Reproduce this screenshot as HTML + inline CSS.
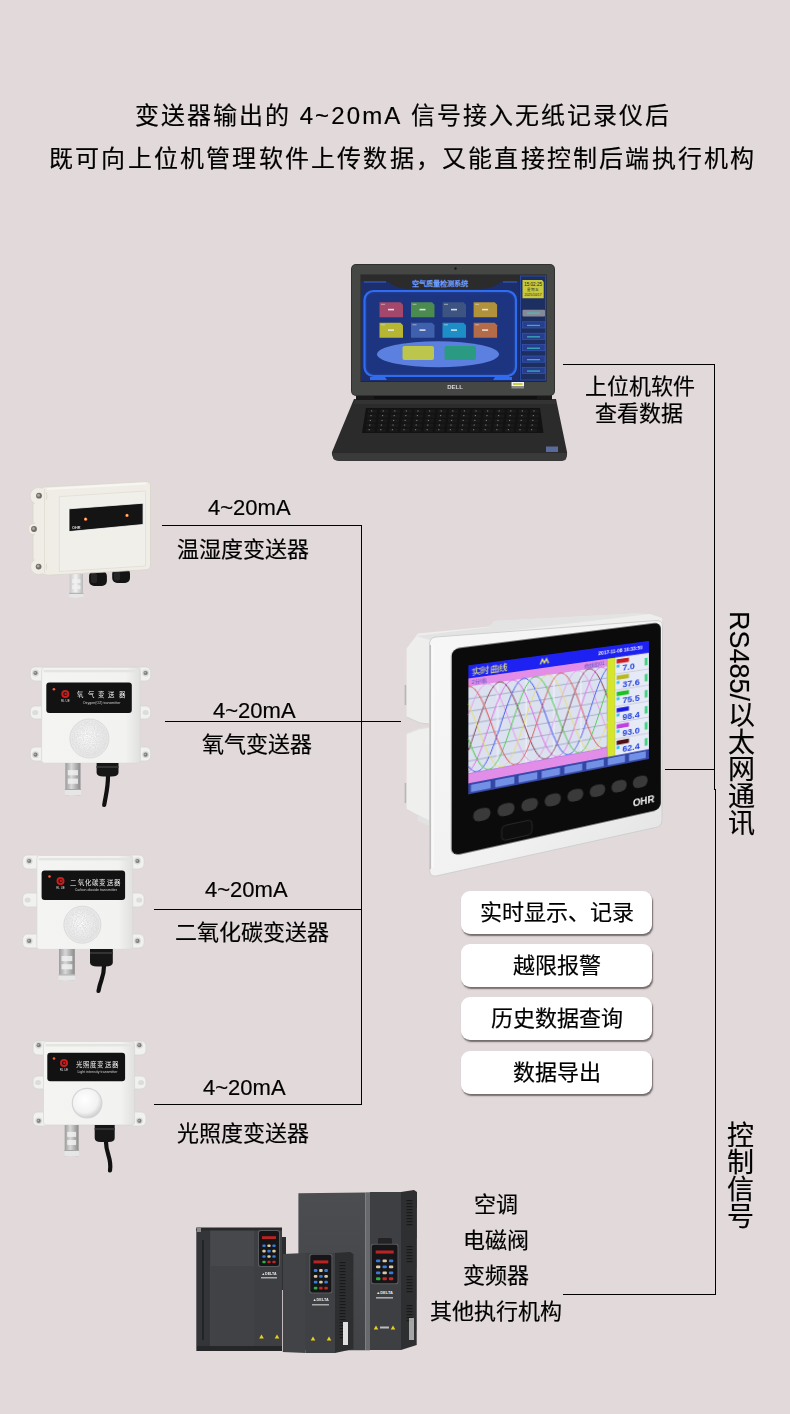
<!DOCTYPE html>
<html lang="zh-CN">
<head>
<meta charset="utf-8">
<style>
*{margin:0;padding:0;box-sizing:border-box}
html,body{width:790px;height:1414px;overflow:hidden}
body{background:#e2d9da;font-family:"Liberation Sans",sans-serif;color:#000;position:relative}
.t{position:absolute;white-space:nowrap;line-height:1;will-change:transform;-webkit-text-stroke:0.18px #000}
.ln{position:absolute;background:#000}
.box{will-change:transform;position:absolute;left:461px;width:191px;height:43px;background:#fff;border-radius:9px;box-shadow:1px 2px 1.5px rgba(70,60,60,.7);font-size:22px;line-height:43px;text-align:center;color:#000;-webkit-text-stroke:0.18px #000}
</style>
</head>
<body>
<div class="t" id="h1" style="left:135px;top:104px;font-size:24px;letter-spacing:2px">变送器输出的 <span style="letter-spacing:2.1px">4~20mA</span> 信号接入无纸记录仪后</div>
<div class="t" id="h2" style="left:49px;top:147px;font-size:24px;letter-spacing:2.2px">既可向上位机管理软件上传数据，又能直接控制后端执行机构</div>

<!-- lines -->
<div class="ln" style="left:563px;top:364px;width:152px;height:1px"></div>
<div class="ln" style="left:714px;top:364px;width:1px;height:426px"></div>
<div class="ln" style="left:715px;top:789px;width:1px;height:506px"></div>
<div class="ln" style="left:665px;top:769px;width:50px;height:1px"></div>
<div class="ln" style="left:563px;top:1294px;width:153px;height:1px"></div>

<div class="ln" style="left:162px;top:525px;width:200px;height:1px"></div>
<div class="ln" style="left:361px;top:525px;width:1px;height:580px"></div>
<div class="ln" style="left:165px;top:721px;width:236px;height:1px"></div>
<div class="ln" style="left:154px;top:909px;width:208px;height:1px"></div>
<div class="ln" style="left:154px;top:1104px;width:208px;height:1px"></div>

<div class="t" style="left:585px;top:373px;font-size:22px;text-align:center;line-height:27px;width:108px">上位机软件<br>查看数据</div>

<div class="t" style="left:208px;top:497px;font-size:22px">4~20mA</div>
<div class="t" style="left:177px;top:539px;font-size:22px">温湿度变送器</div>
<div class="t" style="left:213px;top:700px;font-size:22px">4~20mA</div>
<div class="t" style="left:202px;top:734px;font-size:22px">氧气变送器</div>
<div class="t" style="left:205px;top:879px;font-size:22px">4~20mA</div>
<div class="t" style="left:175px;top:922px;font-size:22px">二氧化碳变送器</div>
<div class="t" style="left:203px;top:1077px;font-size:22px">4~20mA</div>
<div class="t" style="left:177px;top:1123px;font-size:22px">光照度变送器</div>

<div class="t" style="left:725px;top:611px;font-size:27px;writing-mode:vertical-rl">RS485/以太网通讯</div>
<div class="t" style="left:724px;top:1121px;font-size:27px;writing-mode:vertical-rl">控制信号</div>

<div class="box" style="top:891px">实时显示、记录</div>
<div class="box" style="top:944px">越限报警</div>
<div class="box" style="top:997px">历史数据查询</div>
<div class="box" style="top:1051px">数据导出</div>

<div class="t" style="left:430px;top:1187px;width:132px;text-align:center;font-size:22px;line-height:35.5px">空调<br>电磁阀<br>变频器<br>其他执行机构</div>
<svg style="position:absolute;left:0;top:0" width="790" height="1414" viewBox="0 0 790 1414"><path d="M354,399 L556,399 L567,452 Q568,460 560,461 L340,461 Q331,460 332,452 Z" fill="#2b2b2b"/><path d="M333,453 L567,453 L566,459 Q565,461 559,461 L341,461 Q334,461 333,458 Z" fill="#3a3a3a"/><path d="M355,399 L555,399 L556,404 L354,404 Z" fill="#333"/><path d="M366,408 L540,408 L543.5,433 L362,433 Z" fill="#121212"/><rect x="368.0" y="409.5" width="9" height="3.6" fill="#191919"/><rect x="379.6" y="409.5" width="9" height="3.6" fill="#191919"/><rect x="391.2" y="409.5" width="9" height="3.6" fill="#191919"/><rect x="402.8" y="409.5" width="9" height="3.6" fill="#191919"/><rect x="414.4" y="409.5" width="9" height="3.6" fill="#191919"/><rect x="426.0" y="409.5" width="9" height="3.6" fill="#191919"/><rect x="437.6" y="409.5" width="9" height="3.6" fill="#191919"/><rect x="449.2" y="409.5" width="9" height="3.6" fill="#191919"/><rect x="460.8" y="409.5" width="9" height="3.6" fill="#191919"/><rect x="472.4" y="409.5" width="9" height="3.6" fill="#191919"/><rect x="484.0" y="409.5" width="9" height="3.6" fill="#191919"/><rect x="495.6" y="409.5" width="9" height="3.6" fill="#191919"/><rect x="507.2" y="409.5" width="9" height="3.6" fill="#191919"/><rect x="518.8" y="409.5" width="9" height="3.6" fill="#191919"/><rect x="530.4" y="409.5" width="9" height="3.6" fill="#191919"/><rect x="367.4" y="414.2" width="9" height="3.6" fill="#191919"/><rect x="379.0" y="414.2" width="9" height="3.6" fill="#191919"/><rect x="390.6" y="414.2" width="9" height="3.6" fill="#191919"/><rect x="402.2" y="414.2" width="9" height="3.6" fill="#191919"/><rect x="413.8" y="414.2" width="9" height="3.6" fill="#191919"/><rect x="425.4" y="414.2" width="9" height="3.6" fill="#191919"/><rect x="437.0" y="414.2" width="9" height="3.6" fill="#191919"/><rect x="448.6" y="414.2" width="9" height="3.6" fill="#191919"/><rect x="460.2" y="414.2" width="9" height="3.6" fill="#191919"/><rect x="471.8" y="414.2" width="9" height="3.6" fill="#191919"/><rect x="483.4" y="414.2" width="9" height="3.6" fill="#191919"/><rect x="495.0" y="414.2" width="9" height="3.6" fill="#191919"/><rect x="506.6" y="414.2" width="9" height="3.6" fill="#191919"/><rect x="518.2" y="414.2" width="9" height="3.6" fill="#191919"/><rect x="529.8" y="414.2" width="9" height="3.6" fill="#191919"/><rect x="366.8" y="418.9" width="9" height="3.6" fill="#191919"/><rect x="378.4" y="418.9" width="9" height="3.6" fill="#191919"/><rect x="390.0" y="418.9" width="9" height="3.6" fill="#191919"/><rect x="401.6" y="418.9" width="9" height="3.6" fill="#191919"/><rect x="413.2" y="418.9" width="9" height="3.6" fill="#191919"/><rect x="424.8" y="418.9" width="9" height="3.6" fill="#191919"/><rect x="436.4" y="418.9" width="9" height="3.6" fill="#191919"/><rect x="448.0" y="418.9" width="9" height="3.6" fill="#191919"/><rect x="459.6" y="418.9" width="9" height="3.6" fill="#191919"/><rect x="471.2" y="418.9" width="9" height="3.6" fill="#191919"/><rect x="482.8" y="418.9" width="9" height="3.6" fill="#191919"/><rect x="494.4" y="418.9" width="9" height="3.6" fill="#191919"/><rect x="506.0" y="418.9" width="9" height="3.6" fill="#191919"/><rect x="517.6" y="418.9" width="9" height="3.6" fill="#191919"/><rect x="529.2" y="418.9" width="9" height="3.6" fill="#191919"/><rect x="366.2" y="423.6" width="9" height="3.6" fill="#191919"/><rect x="377.8" y="423.6" width="9" height="3.6" fill="#191919"/><rect x="389.4" y="423.6" width="9" height="3.6" fill="#191919"/><rect x="401.0" y="423.6" width="9" height="3.6" fill="#191919"/><rect x="412.6" y="423.6" width="9" height="3.6" fill="#191919"/><rect x="424.2" y="423.6" width="9" height="3.6" fill="#191919"/><rect x="435.8" y="423.6" width="9" height="3.6" fill="#191919"/><rect x="447.4" y="423.6" width="9" height="3.6" fill="#191919"/><rect x="459.0" y="423.6" width="9" height="3.6" fill="#191919"/><rect x="470.6" y="423.6" width="9" height="3.6" fill="#191919"/><rect x="482.2" y="423.6" width="9" height="3.6" fill="#191919"/><rect x="493.8" y="423.6" width="9" height="3.6" fill="#191919"/><rect x="505.4" y="423.6" width="9" height="3.6" fill="#191919"/><rect x="517.0" y="423.6" width="9" height="3.6" fill="#191919"/><rect x="528.6" y="423.6" width="9" height="3.6" fill="#191919"/><rect x="365.6" y="428.3" width="9" height="3.6" fill="#191919"/><rect x="377.2" y="428.3" width="9" height="3.6" fill="#191919"/><rect x="388.8" y="428.3" width="9" height="3.6" fill="#191919"/><rect x="400.4" y="428.3" width="9" height="3.6" fill="#191919"/><rect x="412.0" y="428.3" width="9" height="3.6" fill="#191919"/><rect x="423.6" y="428.3" width="9" height="3.6" fill="#191919"/><rect x="435.2" y="428.3" width="9" height="3.6" fill="#191919"/><rect x="446.8" y="428.3" width="9" height="3.6" fill="#191919"/><rect x="458.4" y="428.3" width="9" height="3.6" fill="#191919"/><rect x="470.0" y="428.3" width="9" height="3.6" fill="#191919"/><rect x="481.6" y="428.3" width="9" height="3.6" fill="#191919"/><rect x="493.2" y="428.3" width="9" height="3.6" fill="#191919"/><rect x="504.8" y="428.3" width="9" height="3.6" fill="#191919"/><rect x="516.4" y="428.3" width="9" height="3.6" fill="#191919"/><rect x="528.0" y="428.3" width="9" height="3.6" fill="#191919"/><rect x="371.0" y="410.5" width="1.2" height=".9" fill="#8a8a8a"/><rect x="382.6" y="410.5" width="1.2" height=".9" fill="#8a8a8a"/><rect x="394.2" y="410.5" width="1.2" height=".9" fill="#8a8a8a"/><rect x="405.8" y="410.5" width="1.2" height=".9" fill="#8a8a8a"/><rect x="417.4" y="410.5" width="1.2" height=".9" fill="#8a8a8a"/><rect x="429.0" y="410.5" width="1.2" height=".9" fill="#8a8a8a"/><rect x="440.6" y="410.5" width="1.2" height=".9" fill="#8a8a8a"/><rect x="452.2" y="410.5" width="1.2" height=".9" fill="#8a8a8a"/><rect x="463.8" y="410.5" width="1.2" height=".9" fill="#8a8a8a"/><rect x="475.4" y="410.5" width="1.2" height=".9" fill="#8a8a8a"/><rect x="487.0" y="410.5" width="1.2" height=".9" fill="#8a8a8a"/><rect x="498.6" y="410.5" width="1.2" height=".9" fill="#8a8a8a"/><rect x="510.2" y="410.5" width="1.2" height=".9" fill="#8a8a8a"/><rect x="521.8" y="410.5" width="1.2" height=".9" fill="#8a8a8a"/><rect x="533.4" y="410.5" width="1.2" height=".9" fill="#8a8a8a"/><rect x="370.4" y="415.2" width="1.2" height=".9" fill="#8a8a8a"/><rect x="382.0" y="415.2" width="1.2" height=".9" fill="#8a8a8a"/><rect x="393.6" y="415.2" width="1.2" height=".9" fill="#8a8a8a"/><rect x="405.2" y="415.2" width="1.2" height=".9" fill="#8a8a8a"/><rect x="416.8" y="415.2" width="1.2" height=".9" fill="#8a8a8a"/><rect x="428.4" y="415.2" width="1.2" height=".9" fill="#8a8a8a"/><rect x="440.0" y="415.2" width="1.2" height=".9" fill="#8a8a8a"/><rect x="451.6" y="415.2" width="1.2" height=".9" fill="#8a8a8a"/><rect x="463.2" y="415.2" width="1.2" height=".9" fill="#8a8a8a"/><rect x="474.8" y="415.2" width="1.2" height=".9" fill="#8a8a8a"/><rect x="486.4" y="415.2" width="1.2" height=".9" fill="#8a8a8a"/><rect x="498.0" y="415.2" width="1.2" height=".9" fill="#8a8a8a"/><rect x="509.6" y="415.2" width="1.2" height=".9" fill="#8a8a8a"/><rect x="521.2" y="415.2" width="1.2" height=".9" fill="#8a8a8a"/><rect x="532.8" y="415.2" width="1.2" height=".9" fill="#8a8a8a"/><rect x="369.8" y="419.9" width="1.2" height=".9" fill="#8a8a8a"/><rect x="381.4" y="419.9" width="1.2" height=".9" fill="#8a8a8a"/><rect x="393.0" y="419.9" width="1.2" height=".9" fill="#8a8a8a"/><rect x="404.6" y="419.9" width="1.2" height=".9" fill="#8a8a8a"/><rect x="416.2" y="419.9" width="1.2" height=".9" fill="#8a8a8a"/><rect x="427.8" y="419.9" width="1.2" height=".9" fill="#8a8a8a"/><rect x="439.4" y="419.9" width="1.2" height=".9" fill="#8a8a8a"/><rect x="451.0" y="419.9" width="1.2" height=".9" fill="#8a8a8a"/><rect x="462.6" y="419.9" width="1.2" height=".9" fill="#8a8a8a"/><rect x="474.2" y="419.9" width="1.2" height=".9" fill="#8a8a8a"/><rect x="485.8" y="419.9" width="1.2" height=".9" fill="#8a8a8a"/><rect x="497.4" y="419.9" width="1.2" height=".9" fill="#8a8a8a"/><rect x="509.0" y="419.9" width="1.2" height=".9" fill="#8a8a8a"/><rect x="520.6" y="419.9" width="1.2" height=".9" fill="#8a8a8a"/><rect x="532.2" y="419.9" width="1.2" height=".9" fill="#8a8a8a"/><rect x="369.2" y="424.6" width="1.2" height=".9" fill="#8a8a8a"/><rect x="380.8" y="424.6" width="1.2" height=".9" fill="#8a8a8a"/><rect x="392.4" y="424.6" width="1.2" height=".9" fill="#8a8a8a"/><rect x="404.0" y="424.6" width="1.2" height=".9" fill="#8a8a8a"/><rect x="415.6" y="424.6" width="1.2" height=".9" fill="#8a8a8a"/><rect x="427.2" y="424.6" width="1.2" height=".9" fill="#8a8a8a"/><rect x="438.8" y="424.6" width="1.2" height=".9" fill="#8a8a8a"/><rect x="450.4" y="424.6" width="1.2" height=".9" fill="#8a8a8a"/><rect x="462.0" y="424.6" width="1.2" height=".9" fill="#8a8a8a"/><rect x="473.6" y="424.6" width="1.2" height=".9" fill="#8a8a8a"/><rect x="485.2" y="424.6" width="1.2" height=".9" fill="#8a8a8a"/><rect x="496.8" y="424.6" width="1.2" height=".9" fill="#8a8a8a"/><rect x="508.4" y="424.6" width="1.2" height=".9" fill="#8a8a8a"/><rect x="520.0" y="424.6" width="1.2" height=".9" fill="#8a8a8a"/><rect x="531.6" y="424.6" width="1.2" height=".9" fill="#8a8a8a"/><rect x="368.6" y="429.3" width="1.2" height=".9" fill="#8a8a8a"/><rect x="380.2" y="429.3" width="1.2" height=".9" fill="#8a8a8a"/><rect x="391.8" y="429.3" width="1.2" height=".9" fill="#8a8a8a"/><rect x="403.4" y="429.3" width="1.2" height=".9" fill="#8a8a8a"/><rect x="415.0" y="429.3" width="1.2" height=".9" fill="#8a8a8a"/><rect x="426.6" y="429.3" width="1.2" height=".9" fill="#8a8a8a"/><rect x="438.2" y="429.3" width="1.2" height=".9" fill="#8a8a8a"/><rect x="449.8" y="429.3" width="1.2" height=".9" fill="#8a8a8a"/><rect x="461.4" y="429.3" width="1.2" height=".9" fill="#8a8a8a"/><rect x="473.0" y="429.3" width="1.2" height=".9" fill="#8a8a8a"/><rect x="484.6" y="429.3" width="1.2" height=".9" fill="#8a8a8a"/><rect x="496.2" y="429.3" width="1.2" height=".9" fill="#8a8a8a"/><rect x="507.8" y="429.3" width="1.2" height=".9" fill="#8a8a8a"/><rect x="519.4" y="429.3" width="1.2" height=".9" fill="#8a8a8a"/><rect x="531.0" y="429.3" width="1.2" height=".9" fill="#8a8a8a"/><rect x="546" y="446.5" width="12" height="5.5" fill="#5a6a9a"/><rect x="356" y="394" width="196" height="6" fill="#1a1a1a"/><rect x="374" y="395" width="163" height="4" fill="#101010"/><rect x="351" y="264" width="204" height="132" rx="5" fill="#2f302f"/><rect x="352" y="265" width="202" height="130" rx="4" fill="#454745"/><rect x="360.5" y="274.5" width="186" height="107.5" fill="#262626"/><rect x="361" y="275" width="158.5" height="106" fill="#1c2f6c"/><rect x="361" y="275" width="158.5" height="6" fill="#2b2b2b"/><path d="M386,280 Q395,289 410,289 L478,289 Q495,289 503,280 Z" fill="#2b2b2b"/><path d="M364,282 L386,282 M503,282 L517,282" stroke="#3a63c8" stroke-width="1"/><text x="440" y="286" font-size="7.2" fill="#6f9cff" text-anchor="middle" font-weight="700" style="font-family:'Liberation Sans',sans-serif">空气质量检测系统</text><rect x="364.5" y="291" width="151.5" height="85" rx="9" fill="#1f3b8f" stroke="#2f6cf0" stroke-width="2.2"/><rect x="367" y="293.5" width="146.5" height="80" rx="7" fill="#1d3580"/><path d="M370,377 L385,377 L387,380 L370,380 Z M495,377 L512,377 L512,380 L493,380 Z" fill="#2f6cf0"/><path d="M379.5,302.3 h21 l2.5,2.5 v12.5 h-23.5 z" fill="#a3476b"/><rect x="388.0" y="308.8" width="6" height="1.6" fill="#f0f0f0" opacity=".85"/><rect x="381.0" y="303.8" width="4" height="1" fill="#e0e0e0" opacity=".6"/><path d="M411.0,302.3 h21 l2.5,2.5 v12.5 h-23.5 z" fill="#4b8b50"/><rect x="419.5" y="308.8" width="6" height="1.6" fill="#f0f0f0" opacity=".85"/><rect x="412.5" y="303.8" width="4" height="1" fill="#e0e0e0" opacity=".6"/><path d="M442.5,302.3 h21 l2.5,2.5 v12.5 h-23.5 z" fill="#3d5382"/><rect x="451.0" y="308.8" width="6" height="1.6" fill="#f0f0f0" opacity=".85"/><rect x="444.0" y="303.8" width="4" height="1" fill="#e0e0e0" opacity=".6"/><path d="M473.6,302.3 h21 l2.5,2.5 v12.5 h-23.5 z" fill="#b1913a"/><rect x="482.1" y="308.8" width="6" height="1.6" fill="#f0f0f0" opacity=".85"/><rect x="475.1" y="303.8" width="4" height="1" fill="#e0e0e0" opacity=".6"/><path d="M379.5,322.8 h21 l2.5,2.5 v12.5 h-23.5 z" fill="#b6b534"/><rect x="388.0" y="329.3" width="6" height="1.6" fill="#f0f0f0" opacity=".85"/><rect x="381.0" y="324.3" width="4" height="1" fill="#e0e0e0" opacity=".6"/><path d="M411.0,322.8 h21 l2.5,2.5 v12.5 h-23.5 z" fill="#3f60ad"/><rect x="419.5" y="329.3" width="6" height="1.6" fill="#f0f0f0" opacity=".85"/><rect x="412.5" y="324.3" width="4" height="1" fill="#e0e0e0" opacity=".6"/><path d="M442.5,322.8 h21 l2.5,2.5 v12.5 h-23.5 z" fill="#1e8ec7"/><rect x="451.0" y="329.3" width="6" height="1.6" fill="#f0f0f0" opacity=".85"/><rect x="444.0" y="324.3" width="4" height="1" fill="#e0e0e0" opacity=".6"/><path d="M473.6,322.8 h21 l2.5,2.5 v12.5 h-23.5 z" fill="#b46c48"/><rect x="482.1" y="329.3" width="6" height="1.6" fill="#f0f0f0" opacity=".85"/><rect x="475.1" y="324.3" width="4" height="1" fill="#e0e0e0" opacity=".6"/><ellipse cx="438" cy="354.3" rx="61" ry="13" fill="#5b80e0"/><rect x="402.5" y="346" width="31.5" height="14" rx="2" fill="#bcc64c"/><rect x="444.5" y="346" width="31.5" height="14" rx="2" fill="#2a9a82"/><rect x="519.5" y="275" width="27" height="106" fill="#1d2f60"/><rect x="520.5" y="276" width="25" height="104" fill="none" stroke="#2b4aa0" stroke-width="1"/><path d="M522.5,280 h19.5 l1.7,2 v16.3 h-21.2 z" fill="#c9c93d"/><text x="533.1" y="285.8" font-size="4.6" fill="#1a1a1a" text-anchor="middle" style="font-family:'Liberation Sans',sans-serif">15:02:25</text><text x="533.1" y="291" font-size="3.6" fill="#333" text-anchor="middle" style="font-family:'Liberation Sans',sans-serif">星期五</text><text x="533.1" y="296" font-size="3.4" fill="#1a1a1a" text-anchor="middle" style="font-family:'Liberation Sans',sans-serif">2025/10/17</text><rect x="522.5" y="309.7" width="22.5" height="6.8" rx="1" fill="#858b96"/><rect x="522.5" y="321.8" width="22.5" height="6.2" fill="#263e8c" stroke="#3c5cc0" stroke-width=".6"/><rect x="522.5" y="333.2" width="22.5" height="6.2" fill="#263e8c" stroke="#3c5cc0" stroke-width=".6"/><rect x="522.5" y="344.6" width="22.5" height="6.2" fill="#263e8c" stroke="#3c5cc0" stroke-width=".6"/><rect x="522.5" y="356.0" width="22.5" height="6.2" fill="#263e8c" stroke="#3c5cc0" stroke-width=".6"/><rect x="522.5" y="367.4" width="22.5" height="6.2" fill="#263e8c" stroke="#3c5cc0" stroke-width=".6"/><rect x="527" y="312.5" width="13" height="1.3" fill="#40c8c8" opacity=".8"/><rect x="527" y="324.8" width="13" height="1.3" fill="#40c8c8" opacity=".8"/><rect x="527" y="336.2" width="13" height="1.3" fill="#40c8c8" opacity=".8"/><rect x="527" y="347.6" width="13" height="1.3" fill="#40c8c8" opacity=".8"/><rect x="527" y="359.0" width="13" height="1.3" fill="#40c8c8" opacity=".8"/><rect x="527" y="370.4" width="13" height="1.3" fill="#40c8c8" opacity=".8"/><text x="455" y="389" font-size="6" fill="#d8d8d8" text-anchor="middle" font-weight="700" style="font-family:'Liberation Sans',sans-serif">DELL</text><rect x="511.5" y="382" width="12.5" height="4" fill="#f2f2f2"/><rect x="511.5" y="386" width="12.5" height="2.5" fill="#8a8a8a"/><rect x="513" y="383" width="9.5" height="2" fill="#c8d040"/><circle cx="455.5" cy="268.5" r="1.2" fill="#1a1a1a"/></svg>
<svg style="position:absolute;left:0;top:0" width="790" height="1414" viewBox="0 0 790 1414"><defs><linearGradient id="hsg" x1="0" y1="0" x2="1" y2="0"><stop offset="0" stop-color="#e9e9e9"/><stop offset="1" stop-color="#f6f6f6"/></linearGradient><linearGradient id="frg" x1="0" y1="0" x2="1" y2="1"><stop offset="0" stop-color="#f7f7f7"/><stop offset=".6" stop-color="#f1f1f1"/><stop offset="1" stop-color="#e2e2e2"/></linearGradient></defs><path d="M406.6,648.4 L418,633.4 L490,626.5 L494,621 L634,613.5 L650,614 L662,618 L662,632 L430,665 L429,724 L420,723 L406.6,717 Z" fill="#eeeeed"/><path d="M406.6,733.5 L418,729 L429,727 L429,821 L406.6,808.7 Z" fill="#efefee"/><path d="M418,815 L429,820 L429,826 L418,821 Z" fill="#e2e2e2"/><path d="M416,636 L490,627 L494,621 L634,613.5 L650,614 L430,640 Z" fill="#dedede" opacity=".7"/><path d="M406.6,717 L420,723 L429,724" fill="none" stroke="#d2d2d2" stroke-width="1"/><path d="M406.6,733.5 L418,729 L429,727" fill="none" stroke="#e0e0e0" stroke-width="1.5"/><rect x="404.6" y="685" width="1.6" height="20" fill="#b8b8b8"/><rect x="404.6" y="783" width="1.6" height="20" fill="#b8b8b8"/><path d="M436,637 L656,620.5 Q662.5,620 662.5,626 L662,820 Q662,826.5 655.5,827.5 L436,876 Q429.6,877 429.6,870 L429.6,644 Q429.6,637.6 436,637 Z" fill="url(#frg)"/><path d="M436,637 L656,620.5 Q662.5,620 662.5,626 L662,820 Q662,826.5 655.5,827.5 L436,876 Q429.6,877 429.6,870 L429.6,644 Q429.6,637.6 436,637 Z" fill="none" stroke="#cfcfcf" stroke-width="1"/><path d="M430.3,645 L430.3,869" stroke="#b9b9b9" stroke-width="1.2"/><path d="M433,646 L433,868" stroke="#fafafa" stroke-width="1.5"/></svg><div style="position:absolute;left:0;top:0;width:220px;height:215px;transform-origin:0 0;transform:matrix3d(1.3349017,0.19191822,0,0.00051182607,-0.0028070494,1.004376,0,-4.3258583e-06,0,0,1,0,441.76933,637.45661,0,0.9898673)"><svg width="220" height="215" viewBox="-20 -24 220 215" style="display:block"><rect x="-15.2" y="-18.6" width="208.2" height="204" rx="7" fill="#0b0b0b"/><rect x="0" y="0" width="180" height="128" fill="#3248c8"/><rect x="0" y="0" width="180" height="13" fill="#1d22f2"/><text x="3" y="10" font-size="8.5" fill="#f2f27a" style="font-family:'Liberation Sans',sans-serif">实时曲线</text><text x="173" y="8" font-size="5" fill="#f4f4f4" text-anchor="end" font-weight="700" style="font-family:'Liberation Sans',sans-serif">2017-11-08 16:33:50</text><path d="M68,9 l2,-5 l2,4 l2,-4 l2,5" fill="none" stroke="#e8e86a" stroke-width="1.3"/><rect x="0" y="13" width="135.6" height="8" fill="#e28ee8"/><text x="3" y="19.5" font-size="5" fill="#5050c0" style="font-family:'Liberation Sans',sans-serif">2分/格</text><text x="112" y="19" font-size="5" fill="#5050c0" style="font-family:'Liberation Sans',sans-serif">曲线组01</text><rect x="0" y="21" width="135.6" height="86.3" fill="#dce1f0"/><line x1="0" y1="33.3" x2="135.6" y2="33.3" stroke="#8e96b8" stroke-width=".7"/><line x1="0" y1="45.7" x2="135.6" y2="45.7" stroke="#8e96b8" stroke-width=".7"/><line x1="0" y1="58.0" x2="135.6" y2="58.0" stroke="#8e96b8" stroke-width=".7"/><line x1="0" y1="70.3" x2="135.6" y2="70.3" stroke="#8e96b8" stroke-width=".7"/><line x1="0" y1="82.6" x2="135.6" y2="82.6" stroke="#8e96b8" stroke-width=".7"/><line x1="0" y1="95.0" x2="135.6" y2="95.0" stroke="#8e96b8" stroke-width=".7"/><line x1="27.1" y1="21" x2="27.1" y2="107.3" stroke="#eef0f8" stroke-width="1.2"/><line x1="54.2" y1="21" x2="54.2" y2="107.3" stroke="#eef0f8" stroke-width="1.2"/><line x1="81.4" y1="21" x2="81.4" y2="107.3" stroke="#eef0f8" stroke-width="1.2"/><line x1="108.5" y1="21" x2="108.5" y2="107.3" stroke="#eef0f8" stroke-width="1.2"/><polyline points="0.0,49.0 1.0,46.1 2.0,43.4 3.0,40.8 4.0,38.2 5.0,35.8 6.0,33.6 7.0,31.5 8.0,29.6 9.0,27.8 10.0,26.3 11.0,24.9 12.0,23.7 13.0,22.7 14.0,22.0 15.0,21.4 16.0,21.1 17.0,21.0 18.0,21.1 19.0,21.4 20.0,22.0 21.0,22.7 22.0,23.7 23.0,24.9 24.0,26.3 25.0,27.8 26.0,29.6 27.0,31.5 28.0,33.6 29.0,35.8 30.0,38.2 31.0,40.8 32.0,43.4 33.0,46.1 34.0,49.0 35.0,51.9 36.0,54.9 37.0,57.9 38.0,60.9 39.0,64.0 40.0,67.1 41.0,70.1 42.0,73.1 43.0,76.1 44.0,79.0 45.0,81.9 46.0,84.6 47.0,87.2 48.0,89.8 49.0,92.2 50.0,94.4 51.0,96.5 52.0,98.4 53.0,100.2 54.0,101.7 55.0,103.1 56.0,104.3 57.0,105.3 58.0,106.0 59.0,106.6 60.0,106.9 61.0,107.0 62.0,106.9 63.0,106.6 64.0,106.0 65.0,105.3 66.0,104.3 67.0,103.1 68.0,101.7 69.0,100.2 70.0,98.4 71.0,96.5 72.0,94.4 73.0,92.2 74.0,89.8 75.0,87.2 76.0,84.6 77.0,81.9 78.0,79.0 79.0,76.1 80.0,73.1 81.0,70.1 82.0,67.1 83.0,64.0 84.0,60.9 85.0,57.9 86.0,54.9 87.0,51.9 88.0,49.0 89.0,46.1 90.0,43.4 91.0,40.8 92.0,38.2 93.0,35.8 94.0,33.6 95.0,31.5 96.0,29.6 97.0,27.8 98.0,26.3 99.0,24.9 100.0,23.7 101.0,22.7 102.0,22.0 103.0,21.4 104.0,21.1 105.0,21.0 106.0,21.1 107.0,21.4 108.0,22.0 109.0,22.7 110.0,23.7 111.0,24.9 112.0,26.3 113.0,27.8 114.0,29.6 115.0,31.5 116.0,33.6 117.0,35.8 118.0,38.2 119.0,40.8 120.0,43.4 121.0,46.1 122.0,49.0 123.0,51.9 124.0,54.9 125.0,57.9 126.0,60.9 127.0,64.0 128.0,67.1 129.0,70.1 130.0,73.1 131.0,76.1 132.0,79.0 133.0,81.9 134.0,84.6 135.0,87.2 136.0,89.8" fill="none" stroke="#e6a0e8" stroke-width="1"/><polyline points="0.0,84.6 1.0,81.9 2.0,79.0 3.0,76.1 4.0,73.1 5.0,70.1 6.0,67.1 7.0,64.0 8.0,60.9 9.0,57.9 10.0,54.9 11.0,51.9 12.0,49.0 13.0,46.1 14.0,43.4 15.0,40.8 16.0,38.2 17.0,35.8 18.0,33.6 19.0,31.5 20.0,29.6 21.0,27.8 22.0,26.3 23.0,24.9 24.0,23.7 25.0,22.7 26.0,22.0 27.0,21.4 28.0,21.1 29.0,21.0 30.0,21.1 31.0,21.4 32.0,22.0 33.0,22.7 34.0,23.7 35.0,24.9 36.0,26.3 37.0,27.8 38.0,29.6 39.0,31.5 40.0,33.6 41.0,35.8 42.0,38.2 43.0,40.8 44.0,43.4 45.0,46.1 46.0,49.0 47.0,51.9 48.0,54.9 49.0,57.9 50.0,60.9 51.0,64.0 52.0,67.1 53.0,70.1 54.0,73.1 55.0,76.1 56.0,79.0 57.0,81.9 58.0,84.6 59.0,87.2 60.0,89.8 61.0,92.2 62.0,94.4 63.0,96.5 64.0,98.4 65.0,100.2 66.0,101.7 67.0,103.1 68.0,104.3 69.0,105.3 70.0,106.0 71.0,106.6 72.0,106.9 73.0,107.0 74.0,106.9 75.0,106.6 76.0,106.0 77.0,105.3 78.0,104.3 79.0,103.1 80.0,101.7 81.0,100.2 82.0,98.4 83.0,96.5 84.0,94.4 85.0,92.2 86.0,89.8 87.0,87.2 88.0,84.6 89.0,81.9 90.0,79.0 91.0,76.1 92.0,73.1 93.0,70.1 94.0,67.1 95.0,64.0 96.0,60.9 97.0,57.9 98.0,54.9 99.0,51.9 100.0,49.0 101.0,46.1 102.0,43.4 103.0,40.8 104.0,38.2 105.0,35.8 106.0,33.6 107.0,31.5 108.0,29.6 109.0,27.8 110.0,26.3 111.0,24.9 112.0,23.7 113.0,22.7 114.0,22.0 115.0,21.4 116.0,21.1 117.0,21.0 118.0,21.1 119.0,21.4 120.0,22.0 121.0,22.7 122.0,23.7 123.0,24.9 124.0,26.3 125.0,27.8 126.0,29.6 127.0,31.5 128.0,33.6 129.0,35.8 130.0,38.2 131.0,40.8 132.0,43.4 133.0,46.1 134.0,49.0 135.0,51.9 136.0,54.9" fill="none" stroke="#8a4a5c" stroke-width="1"/><polyline points="0.0,106.0 1.0,105.3 2.0,104.3 3.0,103.1 4.0,101.7 5.0,100.2 6.0,98.4 7.0,96.5 8.0,94.4 9.0,92.2 10.0,89.8 11.0,87.2 12.0,84.6 13.0,81.9 14.0,79.0 15.0,76.1 16.0,73.1 17.0,70.1 18.0,67.1 19.0,64.0 20.0,60.9 21.0,57.9 22.0,54.9 23.0,51.9 24.0,49.0 25.0,46.1 26.0,43.4 27.0,40.8 28.0,38.2 29.0,35.8 30.0,33.6 31.0,31.5 32.0,29.6 33.0,27.8 34.0,26.3 35.0,24.9 36.0,23.7 37.0,22.7 38.0,22.0 39.0,21.4 40.0,21.1 41.0,21.0 42.0,21.1 43.0,21.4 44.0,22.0 45.0,22.7 46.0,23.7 47.0,24.9 48.0,26.3 49.0,27.8 50.0,29.6 51.0,31.5 52.0,33.6 53.0,35.8 54.0,38.2 55.0,40.8 56.0,43.4 57.0,46.1 58.0,49.0 59.0,51.9 60.0,54.9 61.0,57.9 62.0,60.9 63.0,64.0 64.0,67.1 65.0,70.1 66.0,73.1 67.0,76.1 68.0,79.0 69.0,81.9 70.0,84.6 71.0,87.2 72.0,89.8 73.0,92.2 74.0,94.4 75.0,96.5 76.0,98.4 77.0,100.2 78.0,101.7 79.0,103.1 80.0,104.3 81.0,105.3 82.0,106.0 83.0,106.6 84.0,106.9 85.0,107.0 86.0,106.9 87.0,106.6 88.0,106.0 89.0,105.3 90.0,104.3 91.0,103.1 92.0,101.7 93.0,100.2 94.0,98.4 95.0,96.5 96.0,94.4 97.0,92.2 98.0,89.8 99.0,87.2 100.0,84.6 101.0,81.9 102.0,79.0 103.0,76.1 104.0,73.1 105.0,70.1 106.0,67.1 107.0,64.0 108.0,60.9 109.0,57.9 110.0,54.9 111.0,51.9 112.0,49.0 113.0,46.1 114.0,43.4 115.0,40.8 116.0,38.2 117.0,35.8 118.0,33.6 119.0,31.5 120.0,29.6 121.0,27.8 122.0,26.3 123.0,24.9 124.0,23.7 125.0,22.7 126.0,22.0 127.0,21.4 128.0,21.1 129.0,21.0 130.0,21.1 131.0,21.4 132.0,22.0 133.0,22.7 134.0,23.7 135.0,24.9 136.0,26.3" fill="none" stroke="#e070e6" stroke-width="1"/><polyline points="0.0,100.2 1.0,101.7 2.0,103.1 3.0,104.3 4.0,105.3 5.0,106.0 6.0,106.6 7.0,106.9 8.0,107.0 9.0,106.9 10.0,106.6 11.0,106.0 12.0,105.3 13.0,104.3 14.0,103.1 15.0,101.7 16.0,100.2 17.0,98.4 18.0,96.5 19.0,94.4 20.0,92.2 21.0,89.8 22.0,87.2 23.0,84.6 24.0,81.9 25.0,79.0 26.0,76.1 27.0,73.1 28.0,70.1 29.0,67.1 30.0,64.0 31.0,60.9 32.0,57.9 33.0,54.9 34.0,51.9 35.0,49.0 36.0,46.1 37.0,43.4 38.0,40.8 39.0,38.2 40.0,35.8 41.0,33.6 42.0,31.5 43.0,29.6 44.0,27.8 45.0,26.3 46.0,24.9 47.0,23.7 48.0,22.7 49.0,22.0 50.0,21.4 51.0,21.1 52.0,21.0 53.0,21.1 54.0,21.4 55.0,22.0 56.0,22.7 57.0,23.7 58.0,24.9 59.0,26.3 60.0,27.8 61.0,29.6 62.0,31.5 63.0,33.6 64.0,35.8 65.0,38.2 66.0,40.8 67.0,43.4 68.0,46.1 69.0,49.0 70.0,51.9 71.0,54.9 72.0,57.9 73.0,60.9 74.0,64.0 75.0,67.1 76.0,70.1 77.0,73.1 78.0,76.1 79.0,79.0 80.0,81.9 81.0,84.6 82.0,87.2 83.0,89.8 84.0,92.2 85.0,94.4 86.0,96.5 87.0,98.4 88.0,100.2 89.0,101.7 90.0,103.1 91.0,104.3 92.0,105.3 93.0,106.0 94.0,106.6 95.0,106.9 96.0,107.0 97.0,106.9 98.0,106.6 99.0,106.0 100.0,105.3 101.0,104.3 102.0,103.1 103.0,101.7 104.0,100.2 105.0,98.4 106.0,96.5 107.0,94.4 108.0,92.2 109.0,89.8 110.0,87.2 111.0,84.6 112.0,81.9 113.0,79.0 114.0,76.1 115.0,73.1 116.0,70.1 117.0,67.1 118.0,64.0 119.0,60.9 120.0,57.9 121.0,54.9 122.0,51.9 123.0,49.0 124.0,46.1 125.0,43.4 126.0,40.8 127.0,38.2 128.0,35.8 129.0,33.6 130.0,31.5 131.0,29.6 132.0,27.8 133.0,26.3 134.0,24.9 135.0,23.7 136.0,22.7" fill="none" stroke="#4a5cf0" stroke-width="1"/><polyline points="0.0,73.1 1.0,76.1 2.0,79.0 3.0,81.9 4.0,84.6 5.0,87.2 6.0,89.8 7.0,92.2 8.0,94.4 9.0,96.5 10.0,98.4 11.0,100.2 12.0,101.7 13.0,103.1 14.0,104.3 15.0,105.3 16.0,106.0 17.0,106.6 18.0,106.9 19.0,107.0 20.0,106.9 21.0,106.6 22.0,106.0 23.0,105.3 24.0,104.3 25.0,103.1 26.0,101.7 27.0,100.2 28.0,98.4 29.0,96.5 30.0,94.4 31.0,92.2 32.0,89.8 33.0,87.2 34.0,84.6 35.0,81.9 36.0,79.0 37.0,76.1 38.0,73.1 39.0,70.1 40.0,67.1 41.0,64.0 42.0,60.9 43.0,57.9 44.0,54.9 45.0,51.9 46.0,49.0 47.0,46.1 48.0,43.4 49.0,40.8 50.0,38.2 51.0,35.8 52.0,33.6 53.0,31.5 54.0,29.6 55.0,27.8 56.0,26.3 57.0,24.9 58.0,23.7 59.0,22.7 60.0,22.0 61.0,21.4 62.0,21.1 63.0,21.0 64.0,21.1 65.0,21.4 66.0,22.0 67.0,22.7 68.0,23.7 69.0,24.9 70.0,26.3 71.0,27.8 72.0,29.6 73.0,31.5 74.0,33.6 75.0,35.8 76.0,38.2 77.0,40.8 78.0,43.4 79.0,46.1 80.0,49.0 81.0,51.9 82.0,54.9 83.0,57.9 84.0,60.9 85.0,64.0 86.0,67.1 87.0,70.1 88.0,73.1 89.0,76.1 90.0,79.0 91.0,81.9 92.0,84.6 93.0,87.2 94.0,89.8 95.0,92.2 96.0,94.4 97.0,96.5 98.0,98.4 99.0,100.2 100.0,101.7 101.0,103.1 102.0,104.3 103.0,105.3 104.0,106.0 105.0,106.6 106.0,106.9 107.0,107.0 108.0,106.9 109.0,106.6 110.0,106.0 111.0,105.3 112.0,104.3 113.0,103.1 114.0,101.7 115.0,100.2 116.0,98.4 117.0,96.5 118.0,94.4 119.0,92.2 120.0,89.8 121.0,87.2 122.0,84.6 123.0,81.9 124.0,79.0 125.0,76.1 126.0,73.1 127.0,70.1 128.0,67.1 129.0,64.0 130.0,60.9 131.0,57.9 132.0,54.9 133.0,51.9 134.0,49.0 135.0,46.1 136.0,43.4" fill="none" stroke="#50cc50" stroke-width="1"/><polyline points="0.0,38.2 1.0,40.8 2.0,43.4 3.0,46.1 4.0,49.0 5.0,51.9 6.0,54.9 7.0,57.9 8.0,60.9 9.0,64.0 10.0,67.1 11.0,70.1 12.0,73.1 13.0,76.1 14.0,79.0 15.0,81.9 16.0,84.6 17.0,87.2 18.0,89.8 19.0,92.2 20.0,94.4 21.0,96.5 22.0,98.4 23.0,100.2 24.0,101.7 25.0,103.1 26.0,104.3 27.0,105.3 28.0,106.0 29.0,106.6 30.0,106.9 31.0,107.0 32.0,106.9 33.0,106.6 34.0,106.0 35.0,105.3 36.0,104.3 37.0,103.1 38.0,101.7 39.0,100.2 40.0,98.4 41.0,96.5 42.0,94.4 43.0,92.2 44.0,89.8 45.0,87.2 46.0,84.6 47.0,81.9 48.0,79.0 49.0,76.1 50.0,73.1 51.0,70.1 52.0,67.1 53.0,64.0 54.0,60.9 55.0,57.9 56.0,54.9 57.0,51.9 58.0,49.0 59.0,46.1 60.0,43.4 61.0,40.8 62.0,38.2 63.0,35.8 64.0,33.6 65.0,31.5 66.0,29.6 67.0,27.8 68.0,26.3 69.0,24.9 70.0,23.7 71.0,22.7 72.0,22.0 73.0,21.4 74.0,21.1 75.0,21.0 76.0,21.1 77.0,21.4 78.0,22.0 79.0,22.7 80.0,23.7 81.0,24.9 82.0,26.3 83.0,27.8 84.0,29.6 85.0,31.5 86.0,33.6 87.0,35.8 88.0,38.2 89.0,40.8 90.0,43.4 91.0,46.1 92.0,49.0 93.0,51.9 94.0,54.9 95.0,57.9 96.0,60.9 97.0,64.0 98.0,67.1 99.0,70.1 100.0,73.1 101.0,76.1 102.0,79.0 103.0,81.9 104.0,84.6 105.0,87.2 106.0,89.8 107.0,92.2 108.0,94.4 109.0,96.5 110.0,98.4 111.0,100.2 112.0,101.7 113.0,103.1 114.0,104.3 115.0,105.3 116.0,106.0 117.0,106.6 118.0,106.9 119.0,107.0 120.0,106.9 121.0,106.6 122.0,106.0 123.0,105.3 124.0,104.3 125.0,103.1 126.0,101.7 127.0,100.2 128.0,98.4 129.0,96.5 130.0,94.4 131.0,92.2 132.0,89.8 133.0,87.2 134.0,84.6 135.0,81.9 136.0,79.0" fill="none" stroke="#e4e070" stroke-width="1"/><polyline points="0.0,21.0 1.0,21.1 2.0,21.4 3.0,22.0 4.0,22.7 5.0,23.7 6.0,24.9 7.0,26.3 8.0,27.8 9.0,29.6 10.0,31.5 11.0,33.6 12.0,35.8 13.0,38.2 14.0,40.8 15.0,43.4 16.0,46.1 17.0,49.0 18.0,51.9 19.0,54.9 20.0,57.9 21.0,60.9 22.0,64.0 23.0,67.1 24.0,70.1 25.0,73.1 26.0,76.1 27.0,79.0 28.0,81.9 29.0,84.6 30.0,87.2 31.0,89.8 32.0,92.2 33.0,94.4 34.0,96.5 35.0,98.4 36.0,100.2 37.0,101.7 38.0,103.1 39.0,104.3 40.0,105.3 41.0,106.0 42.0,106.6 43.0,106.9 44.0,107.0 45.0,106.9 46.0,106.6 47.0,106.0 48.0,105.3 49.0,104.3 50.0,103.1 51.0,101.7 52.0,100.2 53.0,98.4 54.0,96.5 55.0,94.4 56.0,92.2 57.0,89.8 58.0,87.2 59.0,84.6 60.0,81.9 61.0,79.0 62.0,76.1 63.0,73.1 64.0,70.1 65.0,67.1 66.0,64.0 67.0,60.9 68.0,57.9 69.0,54.9 70.0,51.9 71.0,49.0 72.0,46.1 73.0,43.4 74.0,40.8 75.0,38.2 76.0,35.8 77.0,33.6 78.0,31.5 79.0,29.6 80.0,27.8 81.0,26.3 82.0,24.9 83.0,23.7 84.0,22.7 85.0,22.0 86.0,21.4 87.0,21.1 88.0,21.0 89.0,21.1 90.0,21.4 91.0,22.0 92.0,22.7 93.0,23.7 94.0,24.9 95.0,26.3 96.0,27.8 97.0,29.6 98.0,31.5 99.0,33.6 100.0,35.8 101.0,38.2 102.0,40.8 103.0,43.4 104.0,46.1 105.0,49.0 106.0,51.9 107.0,54.9 108.0,57.9 109.0,60.9 110.0,64.0 111.0,67.1 112.0,70.1 113.0,73.1 114.0,76.1 115.0,79.0 116.0,81.9 117.0,84.6 118.0,87.2 119.0,89.8 120.0,92.2 121.0,94.4 122.0,96.5 123.0,98.4 124.0,100.2 125.0,101.7 126.0,103.1 127.0,104.3 128.0,105.3 129.0,106.0 130.0,106.6 131.0,106.9 132.0,107.0 133.0,106.9 134.0,106.6 135.0,106.0 136.0,105.3" fill="none" stroke="#dc5c5c" stroke-width="1"/><rect x="0" y="107.3" width="135.6" height="10" fill="#e28ee8"/><rect x="0" y="117.3" width="180" height="10.7" fill="#3446a8"/><rect x="2.0" y="118.5" width="19" height="8.3" fill="#7190e6" stroke="#24308a" stroke-width=".6"/><rect x="24.3" y="118.5" width="19" height="8.3" fill="#7190e6" stroke="#24308a" stroke-width=".6"/><rect x="46.6" y="118.5" width="19" height="8.3" fill="#7190e6" stroke="#24308a" stroke-width=".6"/><rect x="68.9" y="118.5" width="19" height="8.3" fill="#7190e6" stroke="#24308a" stroke-width=".6"/><rect x="91.2" y="118.5" width="19" height="8.3" fill="#7190e6" stroke="#24308a" stroke-width=".6"/><rect x="113.5" y="118.5" width="19" height="8.3" fill="#7190e6" stroke="#24308a" stroke-width=".6"/><rect x="135.8" y="118.5" width="19" height="8.3" fill="#7190e6" stroke="#24308a" stroke-width=".6"/><rect x="158.1" y="118.5" width="19" height="8.3" fill="#7190e6" stroke="#24308a" stroke-width=".6"/><rect x="135.6" y="13" width="8.3" height="104.3" fill="#d6e62a"/><rect x="143.9" y="13" width="36.1" height="104.3" fill="#e6eaf6"/><rect x="145.5" y="15.0" width="13" height="4.5" fill="#c82020"/><rect x="145.5" y="21.0" width="3" height="3" fill="#30c0f0"/><text x="151.5" y="28.5" font-size="9.5" fill="#2040e0" font-weight="700" style="font-family:'Liberation Sans',sans-serif">7.0</text><rect x="175.5" y="18.0" width="3" height="8" fill="#40d080"/><line x1="143.9" y1="13.0" x2="180" y2="13.0" stroke="#aab" stroke-width=".5"/><rect x="145.5" y="32.4" width="13" height="4.5" fill="#b8b820"/><rect x="145.5" y="38.4" width="3" height="3" fill="#30c0f0"/><text x="151.5" y="45.9" font-size="9.5" fill="#2040e0" font-weight="700" style="font-family:'Liberation Sans',sans-serif">37.6</text><rect x="175.5" y="35.4" width="3" height="8" fill="#40d080"/><line x1="143.9" y1="30.4" x2="180" y2="30.4" stroke="#aab" stroke-width=".5"/><rect x="145.5" y="49.8" width="13" height="4.5" fill="#20c020"/><rect x="145.5" y="55.8" width="3" height="3" fill="#30c0f0"/><text x="151.5" y="63.3" font-size="9.5" fill="#2040e0" font-weight="700" style="font-family:'Liberation Sans',sans-serif">75.5</text><rect x="175.5" y="52.8" width="3" height="8" fill="#40d080"/><line x1="143.9" y1="47.8" x2="180" y2="47.8" stroke="#aab" stroke-width=".5"/><rect x="145.5" y="67.2" width="13" height="4.5" fill="#1818e0"/><rect x="145.5" y="73.2" width="3" height="3" fill="#30c0f0"/><text x="151.5" y="80.7" font-size="9.5" fill="#2040e0" font-weight="700" style="font-family:'Liberation Sans',sans-serif">98.4</text><rect x="175.5" y="70.2" width="3" height="8" fill="#40d080"/><line x1="143.9" y1="65.2" x2="180" y2="65.2" stroke="#aab" stroke-width=".5"/><rect x="145.5" y="84.5" width="13" height="4.5" fill="#c040e0"/><rect x="145.5" y="90.5" width="3" height="3" fill="#30c0f0"/><text x="151.5" y="98.0" font-size="9.5" fill="#2040e0" font-weight="700" style="font-family:'Liberation Sans',sans-serif">93.0</text><rect x="175.5" y="87.5" width="3" height="8" fill="#40d080"/><line x1="143.9" y1="82.5" x2="180" y2="82.5" stroke="#aab" stroke-width=".5"/><rect x="145.5" y="101.9" width="13" height="4.5" fill="#501010"/><rect x="145.5" y="107.9" width="3" height="3" fill="#30c0f0"/><text x="151.5" y="115.4" font-size="9.5" fill="#2040e0" font-weight="700" style="font-family:'Liberation Sans',sans-serif">62.4</text><rect x="175.5" y="104.9" width="3" height="8" fill="#40d080"/><line x1="143.9" y1="99.9" x2="180" y2="99.9" stroke="#aab" stroke-width=".5"/><rect x="4.5" y="144.5" width="16" height="12.5" rx="6" fill="#3a3a3a"/><rect x="27.1" y="144.5" width="16" height="12.5" rx="6" fill="#3a3a3a"/><rect x="49.7" y="144.5" width="16" height="12.5" rx="6" fill="#3a3a3a"/><rect x="72.3" y="144.5" width="16" height="12.5" rx="6" fill="#3a3a3a"/><rect x="94.9" y="144.5" width="16" height="12.5" rx="6" fill="#3a3a3a"/><rect x="117.5" y="144.5" width="16" height="12.5" rx="6" fill="#3a3a3a"/><rect x="140.1" y="144.5" width="16" height="12.5" rx="6" fill="#3a3a3a"/><rect x="162.7" y="144.5" width="16" height="12.5" rx="6" fill="#3a3a3a"/><text x="186" y="176.5" font-size="10.5" fill="#f8f8f8" font-weight="700" text-anchor="end" style="font-family:'Liberation Sans',sans-serif">OHR</text><rect x="31" y="166.5" width="29" height="15" rx="4" fill="#0e0e0e" stroke="#2a2a2a" stroke-width=".9"/></svg></div>
<svg style="position:absolute;left:0;top:0" width="790" height="1414" viewBox="0 0 790 1414"><defs><linearGradient id="bodyg" x1="0" y1="0" x2="1" y2="0"><stop offset="0" stop-color="#f4f4f2"/><stop offset=".85" stop-color="#f2f2f0"/><stop offset="1" stop-color="#e0e0de"/></linearGradient><linearGradient id="metal" x1="0" y1="0" x2="1" y2="0"><stop offset="0" stop-color="#9c9c9c"/><stop offset=".4" stop-color="#d8d8d8"/><stop offset="1" stop-color="#8a8a8a"/></linearGradient><radialGradient id="feltg" cx=".45" cy=".45" r=".6"><stop offset="0" stop-color="#fbfbfb"/><stop offset="1" stop-color="#e2e2e2"/></radialGradient><radialGradient id="domeg" cx=".42" cy=".38" r=".65"><stop offset="0" stop-color="#ffffff"/><stop offset=".7" stop-color="#f2f2f2"/><stop offset="1" stop-color="#cfcfcf"/></radialGradient><linearGradient id="thg" x1="0" y1="0" x2="1" y2="0"><stop offset="0" stop-color="#efeeea"/><stop offset=".9" stop-color="#ecebe7"/><stop offset="1" stop-color="#d9d8d2"/></linearGradient><linearGradient id="metal2" x1="0" y1="0" x2="1" y2="0"><stop offset="0" stop-color="#c8c8c8"/><stop offset=".45" stop-color="#f2f2f2"/><stop offset="1" stop-color="#b8b8b8"/></linearGradient><filter id="noise" x="0" y="0" width="1" height="1"><feTurbulence type="fractalNoise" baseFrequency="0.9" numOctaves="2" seed="4"/><feColorMatrix values="0 0 0 0 .72  0 0 0 0 .72  0 0 0 0 .72  0 0 0 -2.2 1.45"/><feComposite in2="SourceGraphic" operator="in"/></filter></defs><rect x="69.6" y="574.0" width="13.4" height="23.5" fill="url(#metal2)"/><rect x="72.1" y="579.2" width="8.4" height="3.8" fill="#f0f0f0" opacity=".85"/><rect x="72.1" y="585.3" width="8.4" height="3.8" fill="#f0f0f0" opacity=".85"/><rect x="69.1" y="592.8" width="14.4" height="4.7" fill="#e6e6e6"/><rect x="69.1" y="592.8" width="14.4" height="1" fill="#a8a8a8"/><rect x="89.1" y="571" width="17.8" height="15" rx="5" fill="#141414"/><rect x="91" y="573" width="6" height="10" rx="2" fill="#262626"/><rect x="112.2" y="568.5" width="17.8" height="14.5" rx="5" fill="#141414"/><rect x="114" y="570.5" width="6" height="10" rx="2" fill="#262626"/><path d="M33,492 L44,487 L146,481.5 Q150.5,481.3 150.5,486 L150.5,565 Q150.5,569.5 146,569.8 L48,575.2 L33,572 Z" fill="#efede6" stroke="#d9d6cc" stroke-width=".8"/><circle cx="38.5" cy="496.0" r="8.5" fill="#efede6" stroke="#d9d6cc" stroke-width=".8"/><circle cx="34.0" cy="529.0" r="5.8" fill="#efede6" stroke="#d9d6cc" stroke-width=".8"/><circle cx="38.6" cy="566.6" r="8.0" fill="#efede6" stroke="#d9d6cc" stroke-width=".8"/><path d="M35,490 L46,488 L46,574 L35,572 Z" fill="#efede6"/><path d="M44.5,489 L44.5,573" stroke="#e2dfd6" stroke-width="1"/><path d="M59.4,496.6 L145.5,491 L145.5,566 L59.4,571.5 Z" fill="#f1efe9" stroke="#e0ddd4" stroke-width=".8"/><path d="M47,489 L146,483.5" stroke="#f7f6f2" stroke-width="2"/><circle cx="39.0" cy="495.7" r="2.9" fill="#6e6c64"/><circle cx="38.5" cy="495.2" r="1.5" fill="#a9a79e"/><circle cx="34.0" cy="529.0" r="2.9" fill="#6e6c64"/><circle cx="33.5" cy="528.5" r="1.5" fill="#a9a79e"/><circle cx="38.6" cy="566.6" r="2.9" fill="#6e6c64"/><circle cx="38.1" cy="566.1" r="1.5" fill="#a9a79e"/><path d="M69,508.8 L143.1,503.2 L143.1,524.5 L69,531.6 Z" fill="#141414" stroke="#fafafa" stroke-width=".8"/><circle cx="85.6" cy="519.2" r="1.6" fill="#ff8a3a"/><circle cx="127" cy="515.4" r="1.6" fill="#ff8a3a"/><circle cx="85.6" cy="519" r=".7" fill="#fff0c0"/><circle cx="127" cy="515.2" r=".7" fill="#fff0c0"/><text x="72" y="529" font-size="3.8" fill="#ddd" style="font-family:'Liberation Sans',sans-serif" font-weight="700">OHR</text><rect x="30.2" y="667.0" width="17.4" height="14.0" rx="5" fill="#f1f1ef" stroke="#d6d6d4" stroke-width=".8"/><rect x="134.3" y="667.0" width="16.4" height="14.0" rx="5" fill="#f1f1ef" stroke="#d6d6d4" stroke-width=".8"/><rect x="30.2" y="706.0" width="17.4" height="13.0" rx="5" fill="#f1f1ef" stroke="#d6d6d4" stroke-width=".8"/><rect x="134.3" y="706.0" width="16.4" height="13.0" rx="5" fill="#f1f1ef" stroke="#d6d6d4" stroke-width=".8"/><rect x="30.2" y="747.0" width="17.4" height="14.0" rx="5" fill="#f1f1ef" stroke="#d6d6d4" stroke-width=".8"/><rect x="134.3" y="747.0" width="16.4" height="14.0" rx="5" fill="#f1f1ef" stroke="#d6d6d4" stroke-width=".8"/><rect x="41.6" y="667.3" width="98.7" height="95.9" rx="3" fill="url(#bodyg)" stroke="#d8d8d6" stroke-width=".8"/><rect x="43.6" y="669.8" width="94.7" height="2.5" fill="#e4e4e2"/><ellipse cx="35.2" cy="712.5" rx="3" ry="2.6" fill="#dcdcda"/><ellipse cx="145.7" cy="712.5" rx="3" ry="2.6" fill="#dcdcda"/><circle cx="35.5" cy="673.0" r="3.4" fill="#d8d8d6"/><circle cx="35.5" cy="673.0" r="2.1" fill="#7c7c78"/><circle cx="35.1" cy="672.6" r="0.9" fill="#b4b4b0"/><circle cx="145.6" cy="673.0" r="3.4" fill="#d8d8d6"/><circle cx="145.6" cy="673.0" r="2.1" fill="#7c7c78"/><circle cx="145.2" cy="672.6" r="0.9" fill="#b4b4b0"/><circle cx="35.5" cy="754.7" r="3.4" fill="#d8d8d6"/><circle cx="35.5" cy="754.7" r="2.1" fill="#7c7c78"/><circle cx="35.1" cy="754.3" r="0.9" fill="#b4b4b0"/><circle cx="145.6" cy="754.7" r="3.4" fill="#d8d8d6"/><circle cx="145.6" cy="754.7" r="2.1" fill="#7c7c78"/><circle cx="145.2" cy="754.3" r="0.9" fill="#b4b4b0"/><rect x="46.3" y="682.5" width="85.5" height="30.4" rx="3" fill="#121212"/><circle cx="53.9" cy="689.2" r="1.3" fill="#ff5a3a"/><circle cx="65.3" cy="694.0" r="4" fill="#c81e1e"/><circle cx="65.3" cy="694.0" r="2" fill="#121212"/><circle cx="65.6" cy="694.0" r="1.2" fill="#c81e1e"/><text x="65.3" y="702.0" font-size="3" fill="#ddd" text-anchor="middle" style="font-family:'Liberation Sans',sans-serif">RL UE</text><text x="101.6" y="697.2" font-size="6.4" fill="#f4f4f4" text-anchor="middle" letter-spacing="1.3" style="font-family:'Liberation Sans',sans-serif">氧 气 变 送 器</text><text x="101.6" y="703.7" font-size="3.6" fill="#cfcfcf" text-anchor="middle" style="font-family:'Liberation Sans',sans-serif">Oxygen(O2) transmitter</text><circle cx="89.4" cy="738.5" r="19.5" fill="#e9e9e9" stroke="#dadada" stroke-width="1"/><circle cx="89.4" cy="738.5" r="18.0" fill="url(#feltg)"/><circle cx="89.4" cy="738.5" r="18.0" fill="#c8c8c8" filter="url(#noise)" opacity="1"/><rect x="65.3" y="763.0" width="15.2" height="32.5" fill="url(#metal)"/><rect x="67.8" y="770.1" width="10.2" height="5.2" fill="#f0f0f0" opacity=".85"/><rect x="67.8" y="778.6" width="10.2" height="5.2" fill="#f0f0f0" opacity=".85"/><rect x="64.8" y="789.0" width="16.2" height="6.5" fill="#e6e6e6"/><rect x="64.8" y="789.0" width="16.2" height="1" fill="#a8a8a8"/><path d="M108.0,776.0 C108.0,788.0 106.2,793.0 104.2,805.0" fill="none" stroke="#111" stroke-width="4.2" stroke-linecap="round"/><path d="M96.6,763.0 L118.5,763.0 L118.5,772.5 Q118.5,776.5 111.5,776.5 L103.5,776.5 Q96.6,776.5 96.6,772.5 Z" fill="#161616"/><rect x="96.6" y="766.0" width="21.9" height="2" fill="#333"/><rect x="22.6" y="855.0" width="20.2" height="14.0" rx="5" fill="#f1f1ef" stroke="#d6d6d4" stroke-width=".8"/><rect x="126.7" y="855.0" width="17.4" height="14.0" rx="5" fill="#f1f1ef" stroke="#d6d6d4" stroke-width=".8"/><rect x="22.6" y="893.0" width="20.2" height="14.0" rx="5" fill="#f1f1ef" stroke="#d6d6d4" stroke-width=".8"/><rect x="126.7" y="893.0" width="17.4" height="14.0" rx="5" fill="#f1f1ef" stroke="#d6d6d4" stroke-width=".8"/><rect x="22.6" y="934.0" width="20.2" height="14.0" rx="5" fill="#f1f1ef" stroke="#d6d6d4" stroke-width=".8"/><rect x="126.7" y="934.0" width="17.4" height="14.0" rx="5" fill="#f1f1ef" stroke="#d6d6d4" stroke-width=".8"/><rect x="36.8" y="855.4" width="95.9" height="94.0" rx="3" fill="url(#bodyg)" stroke="#d8d8d6" stroke-width=".8"/><rect x="38.8" y="857.9" width="91.9" height="2.5" fill="#e4e4e2"/><ellipse cx="27.6" cy="900.0" rx="3" ry="2.6" fill="#dcdcda"/><ellipse cx="139.1" cy="900.0" rx="3" ry="2.6" fill="#dcdcda"/><circle cx="29.2" cy="861.0" r="3.4" fill="#d8d8d6"/><circle cx="29.2" cy="861.0" r="2.1" fill="#7c7c78"/><circle cx="28.8" cy="860.6" r="0.9" fill="#b4b4b0"/><circle cx="137.5" cy="861.0" r="3.4" fill="#d8d8d6"/><circle cx="137.5" cy="861.0" r="2.1" fill="#7c7c78"/><circle cx="137.1" cy="860.6" r="0.9" fill="#b4b4b0"/><circle cx="29.2" cy="940.9" r="3.4" fill="#d8d8d6"/><circle cx="29.2" cy="940.9" r="2.1" fill="#7c7c78"/><circle cx="28.8" cy="940.5" r="0.9" fill="#b4b4b0"/><circle cx="137.5" cy="940.9" r="3.4" fill="#d8d8d6"/><circle cx="137.5" cy="940.9" r="2.1" fill="#7c7c78"/><circle cx="137.1" cy="940.5" r="0.9" fill="#b4b4b0"/><rect x="41.6" y="870.6" width="83.5" height="29.4" rx="3" fill="#121212"/><circle cx="49.5" cy="876.5" r="1.3" fill="#ff5a3a"/><circle cx="60.5" cy="881.0" r="4" fill="#c81e1e"/><circle cx="60.5" cy="881.0" r="2" fill="#121212"/><circle cx="60.8" cy="881.0" r="1.2" fill="#c81e1e"/><text x="60.5" y="889.0" font-size="3" fill="#ddd" text-anchor="middle" style="font-family:'Liberation Sans',sans-serif">RL UE</text><text x="95.8" y="884.8" font-size="6.4" fill="#f4f4f4" text-anchor="middle" letter-spacing="1.3" style="font-family:'Liberation Sans',sans-serif">二氧化碳变送器</text><text x="95.8" y="891.3" font-size="3.6" fill="#cfcfcf" text-anchor="middle" style="font-family:'Liberation Sans',sans-serif">Carbon dioxide transmitter</text><circle cx="82.4" cy="924.7" r="18.5" fill="#e9e9e9" stroke="#dadada" stroke-width="1"/><circle cx="82.4" cy="924.7" r="17.0" fill="url(#feltg)"/><circle cx="82.4" cy="924.7" r="17.0" fill="#c8c8c8" filter="url(#noise)" opacity="1"/><rect x="59.0" y="949.0" width="15.8" height="31.7" fill="url(#metal)"/><rect x="61.5" y="956.0" width="10.8" height="5.1" fill="#f0f0f0" opacity=".85"/><rect x="61.5" y="964.2" width="10.8" height="5.1" fill="#f0f0f0" opacity=".85"/><rect x="58.5" y="974.4" width="16.8" height="6.3" fill="#e6e6e6"/><rect x="58.5" y="974.4" width="16.8" height="1" fill="#a8a8a8"/><path d="M104.0,966.0 C104.0,978.0 100.5,979.0 98.5,991.0" fill="none" stroke="#111" stroke-width="4.2" stroke-linecap="round"/><path d="M90.0,949.0 L112.8,949.0 L112.8,962.5 Q112.8,966.5 105.4,966.5 L97.4,966.5 Q90.0,966.5 90.0,962.5 Z" fill="#161616"/><rect x="90.0" y="952.0" width="22.8" height="2" fill="#333"/><rect x="33.0" y="1041.0" width="16.5" height="14.0" rx="5" fill="#f1f1ef" stroke="#d6d6d4" stroke-width=".8"/><rect x="128.6" y="1041.0" width="17.4" height="14.0" rx="5" fill="#f1f1ef" stroke="#d6d6d4" stroke-width=".8"/><rect x="33.0" y="1076.0" width="16.5" height="13.0" rx="5" fill="#f1f1ef" stroke="#d6d6d4" stroke-width=".8"/><rect x="128.6" y="1076.0" width="17.4" height="13.0" rx="5" fill="#f1f1ef" stroke="#d6d6d4" stroke-width=".8"/><rect x="33.0" y="1112.0" width="16.5" height="14.0" rx="5" fill="#f1f1ef" stroke="#d6d6d4" stroke-width=".8"/><rect x="128.6" y="1112.0" width="17.4" height="14.0" rx="5" fill="#f1f1ef" stroke="#d6d6d4" stroke-width=".8"/><rect x="43.5" y="1041.4" width="91.1" height="83.6" rx="3" fill="url(#bodyg)" stroke="#d8d8d6" stroke-width=".8"/><rect x="45.5" y="1043.9" width="87.1" height="2.5" fill="#e4e4e2"/><ellipse cx="38.0" cy="1082.5" rx="3" ry="2.6" fill="#dcdcda"/><ellipse cx="141.0" cy="1082.5" rx="3" ry="2.6" fill="#dcdcda"/><circle cx="38.7" cy="1045.2" r="3.4" fill="#d8d8d6"/><circle cx="38.7" cy="1045.2" r="2.1" fill="#7c7c78"/><circle cx="38.3" cy="1044.8" r="0.9" fill="#b4b4b0"/><circle cx="139.4" cy="1045.2" r="3.4" fill="#d8d8d6"/><circle cx="139.4" cy="1045.2" r="2.1" fill="#7c7c78"/><circle cx="139.0" cy="1044.8" r="0.9" fill="#b4b4b0"/><circle cx="38.7" cy="1120.8" r="3.4" fill="#d8d8d6"/><circle cx="38.7" cy="1120.8" r="2.1" fill="#7c7c78"/><circle cx="38.3" cy="1120.4" r="0.9" fill="#b4b4b0"/><circle cx="139.4" cy="1120.8" r="3.4" fill="#d8d8d6"/><circle cx="139.4" cy="1120.8" r="2.1" fill="#7c7c78"/><circle cx="139.0" cy="1120.4" r="0.9" fill="#b4b4b0"/><rect x="47.3" y="1052.8" width="77.8" height="28.5" rx="3" fill="#121212"/><circle cx="54.0" cy="1058.5" r="1.3" fill="#ff5a3a"/><circle cx="64.0" cy="1063.0" r="4" fill="#c81e1e"/><circle cx="64.0" cy="1063.0" r="2" fill="#121212"/><circle cx="64.3" cy="1063.0" r="1.2" fill="#c81e1e"/><text x="64.0" y="1071.0" font-size="3" fill="#ddd" text-anchor="middle" style="font-family:'Liberation Sans',sans-serif">RL UE</text><text x="97.5" y="1066.5" font-size="6.4" fill="#f4f4f4" text-anchor="middle" letter-spacing="1.3" style="font-family:'Liberation Sans',sans-serif">光照度变送器</text><text x="97.5" y="1073.0" font-size="3.6" fill="#cfcfcf" text-anchor="middle" style="font-family:'Liberation Sans',sans-serif">Light intensity transmitter</text><circle cx="87.1" cy="1103.1" r="15.4" fill="#d4d4d4"/><circle cx="87.1" cy="1103.1" r="14.2" fill="url(#domeg)"/><rect x="64.7" y="1125.0" width="13.9" height="31.3" fill="url(#metal)"/><rect x="67.2" y="1131.9" width="8.9" height="5.0" fill="#f0f0f0" opacity=".85"/><rect x="67.2" y="1140.0" width="8.9" height="5.0" fill="#f0f0f0" opacity=".85"/><rect x="64.2" y="1150.0" width="14.9" height="6.3" fill="#e6e6e6"/><rect x="64.2" y="1150.0" width="14.9" height="1" fill="#a8a8a8"/><path d="M106.0,1142.0 C106.0,1154.0 112.0,1158.5 110.0,1170.5" fill="none" stroke="#111" stroke-width="4.2" stroke-linecap="round"/><path d="M94.7,1125.0 L114.7,1125.0 L114.7,1138.0 Q114.7,1142.0 108.7,1142.0 L100.7,1142.0 Q94.7,1142.0 94.7,1138.0 Z" fill="#161616"/><rect x="94.7" y="1128.0" width="20.0" height="2" fill="#333"/></svg>
<svg style="position:absolute;left:0;top:0" width="790" height="1414" viewBox="0 0 790 1414"><defs><linearGradient id="invg" x1="0" y1="0" x2="0" y2="1"><stop offset="0" stop-color="#4b4d50"/><stop offset="1" stop-color="#414346"/></linearGradient></defs><path d="M298.4,1193.3 L365.4,1192.5 L365.4,1350.2 L298.4,1350.2 Z" fill="url(#invg)"/><rect x="365.4" y="1192.3" width="4.6" height="158" fill="#67696c"/><rect x="370" y="1192" width="31" height="158" fill="#3d3f42"/><path d="M401,1192 L414,1190 L417,1192 L416.7,1345 L401,1350 Z" fill="#2e2f31"/><rect x="406.5" y="1200.0" width="6" height="1.2" fill="#1a1a1b"/><rect x="406.5" y="1203.0" width="6" height="1.2" fill="#1a1a1b"/><rect x="406.5" y="1206.0" width="6" height="1.2" fill="#1a1a1b"/><rect x="406.5" y="1209.0" width="6" height="1.2" fill="#1a1a1b"/><rect x="406.5" y="1212.0" width="6" height="1.2" fill="#1a1a1b"/><rect x="406.5" y="1215.0" width="6" height="1.2" fill="#1a1a1b"/><rect x="406.5" y="1218.0" width="6" height="1.2" fill="#1a1a1b"/><rect x="406.5" y="1221.0" width="6" height="1.2" fill="#1a1a1b"/><rect x="406.5" y="1224.0" width="6" height="1.2" fill="#1a1a1b"/><rect x="406.5" y="1246.0" width="6" height="1.2" fill="#1a1a1b"/><rect x="406.5" y="1249.0" width="6" height="1.2" fill="#1a1a1b"/><rect x="406.5" y="1252.0" width="6" height="1.2" fill="#1a1a1b"/><rect x="406.5" y="1255.0" width="6" height="1.2" fill="#1a1a1b"/><rect x="406.5" y="1258.0" width="6" height="1.2" fill="#1a1a1b"/><rect x="406.5" y="1261.0" width="6" height="1.2" fill="#1a1a1b"/><rect x="406.5" y="1276.0" width="6" height="1.2" fill="#1a1a1b"/><rect x="406.5" y="1279.0" width="6" height="1.2" fill="#1a1a1b"/><rect x="406.5" y="1282.0" width="6" height="1.2" fill="#1a1a1b"/><rect x="406.5" y="1285.0" width="6" height="1.2" fill="#1a1a1b"/><rect x="406.5" y="1288.0" width="6" height="1.2" fill="#1a1a1b"/><rect x="406.5" y="1291.0" width="6" height="1.2" fill="#1a1a1b"/><rect x="406.5" y="1305.0" width="6" height="1.2" fill="#1a1a1b"/><rect x="406.5" y="1308.0" width="6" height="1.2" fill="#1a1a1b"/><rect x="406.5" y="1311.0" width="6" height="1.2" fill="#1a1a1b"/><rect x="406.5" y="1314.0" width="6" height="1.2" fill="#1a1a1b"/><rect x="406.5" y="1317.0" width="6" height="1.2" fill="#1a1a1b"/><rect x="406.5" y="1320.0" width="6" height="1.2" fill="#1a1a1b"/><rect x="378" y="1238" width="14" height="7" rx="1.5" fill="#232325"/><rect x="370.8" y="1243.7" width="27.7" height="40.5" rx="2.5" fill="#5a5b5e"/><rect x="371.8" y="1244.7" width="25.7" height="38.5" rx="2" fill="#161618"/><rect x="375.7" y="1250.5" width="18.0" height="3.1" fill="#b82424"/><rect x="376.0" y="1259.4" width="4.4" height="2.9" rx="1" fill="#3a7ad8"/><rect x="382.5" y="1259.4" width="4.4" height="2.9" rx="1" fill="#d8c8a8"/><rect x="388.9" y="1259.4" width="4.4" height="2.9" rx="1" fill="#3a7ad8"/><rect x="376.0" y="1265.4" width="4.4" height="2.9" rx="1" fill="#d8c8a8"/><rect x="382.5" y="1265.4" width="4.4" height="2.9" rx="1" fill="#3a7ad8"/><rect x="388.9" y="1265.4" width="4.4" height="2.9" rx="1" fill="#d8c8a8"/><rect x="376.0" y="1271.4" width="4.4" height="2.9" rx="1" fill="#3a7ad8"/><rect x="382.5" y="1271.4" width="4.4" height="2.9" rx="1" fill="#d8c8a8"/><rect x="388.9" y="1271.4" width="4.4" height="2.9" rx="1" fill="#3a7ad8"/><rect x="376.0" y="1277.3" width="4.4" height="2.9" rx="1" fill="#30b040"/><rect x="382.5" y="1277.3" width="4.4" height="2.9" rx="1" fill="#c02828"/><rect x="388.9" y="1277.3" width="4.4" height="2.9" rx="1" fill="#c02828"/><text x="384.6" y="1294" font-size="4" fill="#e8e8e8" text-anchor="middle" font-weight="700" style="font-family:'Liberation Sans',sans-serif">▲DELTA</text><rect x="376" y="1297" width="17" height="1.6" fill="#aaa"/><path d="M376.0,1325.5 l2.3,4 h-4.6 z" fill="#e8d020"/><path d="M393.0,1325.5 l2.3,4 h-4.6 z" fill="#e8d020"/><rect x="380" y="1326.5" width="9" height="2" fill="#bbb"/><rect x="409" y="1318" width="5" height="22" fill="#d8d8d8" opacity=".7"/><rect x="196.3" y="1229" width="14.6" height="122" fill="#343538"/><rect x="202" y="1240" width="2" height="100" fill="#222325"/><rect x="210.9" y="1229" width="43.1" height="37" fill="#46484b"/><rect x="210.9" y="1266" width="43.1" height="84.5" fill="#404245"/><rect x="254" y="1229" width="28" height="121.5" fill="#3d3f42"/><rect x="196.3" y="1227.5" width="85.7" height="3" fill="#2a2a2c"/><rect x="197" y="1228" width="4" height="4" fill="#8a8a8a"/><rect x="258.0" y="1230.0" width="22.0" height="37.0" rx="2.5" fill="#5a5b5e"/><rect x="259.0" y="1231.0" width="20.0" height="35.0" rx="2" fill="#161618"/><rect x="262.0" y="1236.2" width="14.0" height="2.8" fill="#b82424"/><rect x="262.3" y="1244.4" width="3.4" height="2.6" rx="1" fill="#3a7ad8"/><rect x="267.3" y="1244.4" width="3.4" height="2.6" rx="1" fill="#d8c8a8"/><rect x="272.3" y="1244.4" width="3.4" height="2.6" rx="1" fill="#3a7ad8"/><rect x="262.3" y="1249.8" width="3.4" height="2.6" rx="1" fill="#d8c8a8"/><rect x="267.3" y="1249.8" width="3.4" height="2.6" rx="1" fill="#3a7ad8"/><rect x="272.3" y="1249.8" width="3.4" height="2.6" rx="1" fill="#d8c8a8"/><rect x="262.3" y="1255.2" width="3.4" height="2.6" rx="1" fill="#3a7ad8"/><rect x="267.3" y="1255.2" width="3.4" height="2.6" rx="1" fill="#d8c8a8"/><rect x="272.3" y="1255.2" width="3.4" height="2.6" rx="1" fill="#3a7ad8"/><rect x="262.3" y="1260.7" width="3.4" height="2.6" rx="1" fill="#30b040"/><rect x="267.3" y="1260.7" width="3.4" height="2.6" rx="1" fill="#c02828"/><rect x="272.3" y="1260.7" width="3.4" height="2.6" rx="1" fill="#c02828"/><text x="269" y="1274.5" font-size="3.6" fill="#e8e8e8" text-anchor="middle" font-weight="700" style="font-family:'Liberation Sans',sans-serif">▲DELTA</text><rect x="261" y="1277" width="16" height="1.5" fill="#aaa"/><path d="M261.5,1334.5 l2.3,4 h-4.6 z" fill="#e8d020"/><path d="M277.0,1334.5 l2.3,4 h-4.6 z" fill="#e8d020"/><rect x="282" y="1237" width="4" height="53" fill="#2b2c2e"/><rect x="197" y="1346" width="85" height="5" fill="#262729"/><path d="M282.8,1254 L305.7,1253 L305.7,1353 L282.8,1352 Z" fill="#414346"/><rect x="305.7" y="1253" width="29.3" height="100" fill="#3e4043"/><path d="M335,1253 L350,1252 L353.4,1254 L353.4,1349 L335,1353 Z" fill="#2d2e30"/><rect x="339.5" y="1262.0" width="6" height="1.1" fill="#19191a"/><rect x="339.5" y="1265.0" width="6" height="1.1" fill="#19191a"/><rect x="339.5" y="1268.0" width="6" height="1.1" fill="#19191a"/><rect x="339.5" y="1271.0" width="6" height="1.1" fill="#19191a"/><rect x="339.5" y="1274.0" width="6" height="1.1" fill="#19191a"/><rect x="339.5" y="1277.0" width="6" height="1.1" fill="#19191a"/><rect x="339.5" y="1280.0" width="6" height="1.1" fill="#19191a"/><rect x="339.5" y="1283.0" width="6" height="1.1" fill="#19191a"/><rect x="339.5" y="1286.0" width="6" height="1.1" fill="#19191a"/><rect x="339.5" y="1289.0" width="6" height="1.1" fill="#19191a"/><rect x="339.5" y="1292.0" width="6" height="1.1" fill="#19191a"/><rect x="339.5" y="1295.0" width="6" height="1.1" fill="#19191a"/><rect x="339.5" y="1298.0" width="6" height="1.1" fill="#19191a"/><rect x="339.5" y="1301.0" width="6" height="1.1" fill="#19191a"/><rect x="339.5" y="1304.0" width="6" height="1.1" fill="#19191a"/><rect x="339.5" y="1307.0" width="6" height="1.1" fill="#19191a"/><rect x="339.5" y="1310.0" width="6" height="1.1" fill="#19191a"/><rect x="339.5" y="1313.0" width="6" height="1.1" fill="#19191a"/><rect x="339.5" y="1316.0" width="6" height="1.1" fill="#19191a"/><rect x="339.5" y="1319.0" width="6" height="1.1" fill="#19191a"/><rect x="339.5" y="1322.0" width="6" height="1.1" fill="#19191a"/><rect x="339.5" y="1325.0" width="6" height="1.1" fill="#19191a"/><rect x="339.5" y="1328.0" width="6" height="1.1" fill="#19191a"/><rect x="339.5" y="1331.0" width="6" height="1.1" fill="#19191a"/><rect x="339.5" y="1334.0" width="6" height="1.1" fill="#19191a"/><rect x="339.5" y="1337.0" width="6" height="1.1" fill="#19191a"/><rect x="309.3" y="1253.7" width="23.1" height="39.7" rx="2.5" fill="#5a5b5e"/><rect x="310.3" y="1254.7" width="21.1" height="37.7" rx="2" fill="#161618"/><rect x="313.5" y="1260.4" width="14.8" height="3.0" fill="#b82424"/><rect x="313.8" y="1269.1" width="3.6" height="2.8" rx="1" fill="#3a7ad8"/><rect x="319.1" y="1269.1" width="3.6" height="2.8" rx="1" fill="#d8c8a8"/><rect x="324.3" y="1269.1" width="3.6" height="2.8" rx="1" fill="#3a7ad8"/><rect x="313.8" y="1275.0" width="3.6" height="2.8" rx="1" fill="#d8c8a8"/><rect x="319.1" y="1275.0" width="3.6" height="2.8" rx="1" fill="#3a7ad8"/><rect x="324.3" y="1275.0" width="3.6" height="2.8" rx="1" fill="#d8c8a8"/><rect x="313.8" y="1280.8" width="3.6" height="2.8" rx="1" fill="#3a7ad8"/><rect x="319.1" y="1280.8" width="3.6" height="2.8" rx="1" fill="#d8c8a8"/><rect x="324.3" y="1280.8" width="3.6" height="2.8" rx="1" fill="#3a7ad8"/><rect x="313.8" y="1286.7" width="3.6" height="2.8" rx="1" fill="#30b040"/><rect x="319.1" y="1286.7" width="3.6" height="2.8" rx="1" fill="#c02828"/><rect x="324.3" y="1286.7" width="3.6" height="2.8" rx="1" fill="#c02828"/><text x="320.8" y="1301" font-size="3.8" fill="#e8e8e8" text-anchor="middle" font-weight="700" style="font-family:'Liberation Sans',sans-serif">▲DELTA</text><rect x="312" y="1304" width="17" height="1.5" fill="#aaa"/><path d="M313.0,1336.5 l2.3,4 h-4.6 z" fill="#e8d020"/><path d="M329.0,1336.5 l2.3,4 h-4.6 z" fill="#e8d020"/><rect x="343" y="1322" width="5" height="23" fill="#e0e0e0"/></svg>
</body>
</html>
